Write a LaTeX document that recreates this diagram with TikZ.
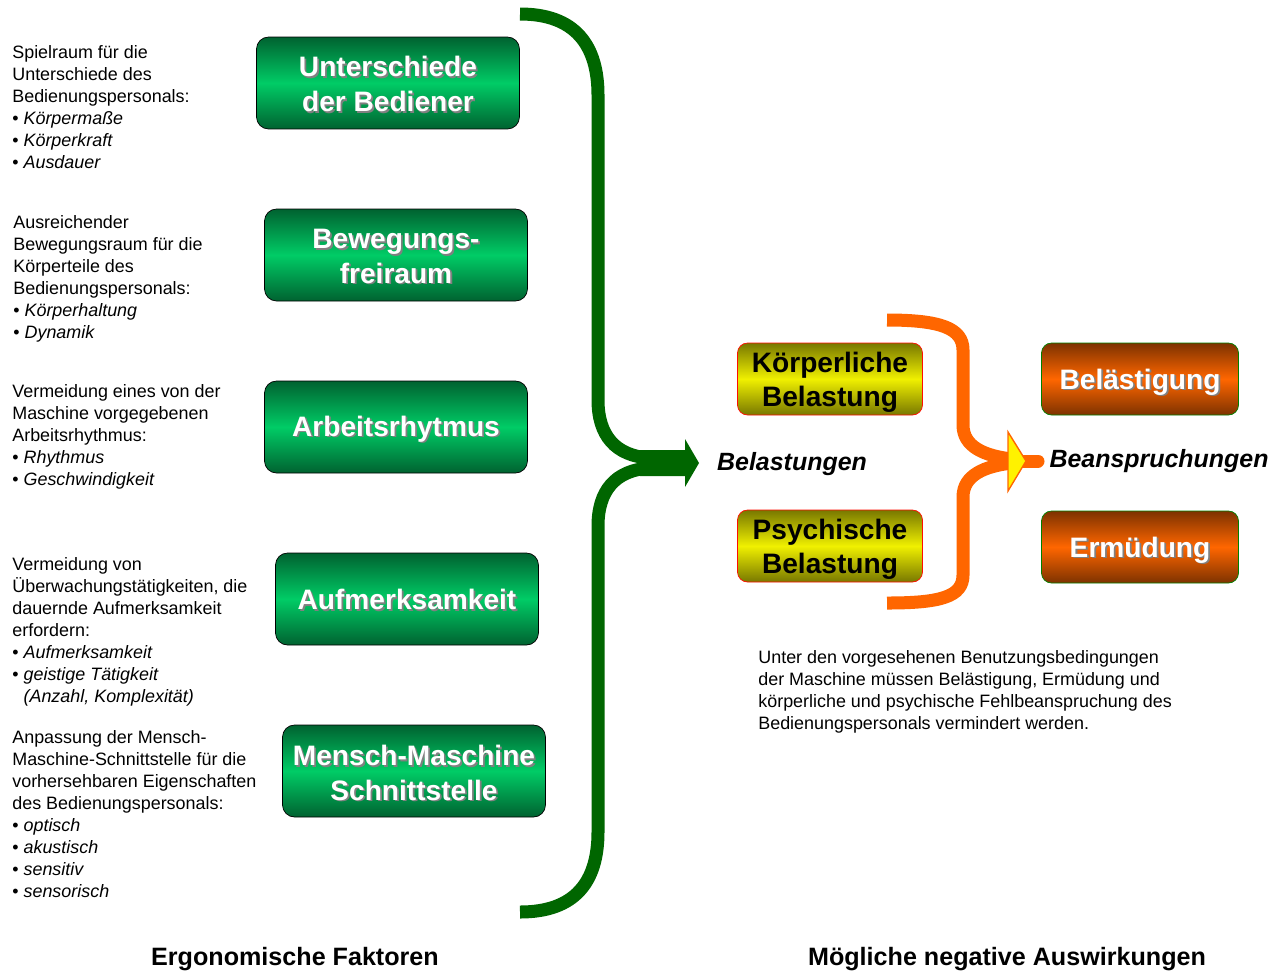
\documentclass[tikz,border=0pt]{standalone}
\usepackage{fontspec}
\setmainfont{Liberation Sans}
\usetikzlibrary{positioning}

\definecolor{gruenDunkel}{RGB}{0,98,48}
\definecolor{gruenHell}{RGB}{0,204,102}
\definecolor{klammerGruen}{RGB}{0,102,0}
\definecolor{klammerOrange}{RGB}{255,102,0}
\definecolor{olivDunkel}{RGB}{120,120,0}
\definecolor{gelbHell}{RGB}{240,240,0}
\definecolor{braunDunkel}{RGB}{125,50,0}
\definecolor{orangeHell}{RGB}{255,102,0}

% Zeile etwas tiefer setzen, ohne die Boxgroesse zu aendern
\newcommand{\tief}[2][1.2pt]{\raisebox{-#1}[\height][\depth]{#2}}
% weisse Schrift mit kleinem Schatten
\newcommand{\shd}[2][1.2pt]{\tief[#1]{\makebox[0pt][l]{\hspace{1pt}\raisebox{-1pt}{\textcolor{black!50}{#2}}}#2}}
\newcommand{\pkt}[1]{\textbullet\ \textit{#1}}

\begin{document}
\begin{tikzpicture}[x=0.02cm, y=-0.02cm,
    faktor/.style={draw=black, rounded corners=0.24cm, minimum width=5.26cm, minimum height=1.84cm,
        top color=gruenDunkel, bottom color=gruenDunkel, middle color=gruenHell,
        text=white, align=center, inner sep=0pt, font=\fontsize{16}{19.8}\selectfont\bfseries},
    belastung/.style={draw=red!90!orange, rounded corners=0.2cm, minimum width=3.7cm, minimum height=1.44cm,
        top color=olivDunkel, bottom color=olivDunkel, middle color=gelbHell,
        align=center, inner sep=0pt, font=\fontsize{16}{19.4}\selectfont\bfseries},
    folge/.style={draw=green!50!black, rounded corners=0.2cm, minimum width=3.94cm, minimum height=1.44cm,
        top color=braunDunkel, bottom color=braunDunkel, middle color=orangeHell,
        text=white, align=center, inner sep=0pt, font=\fontsize{16}{19.4}\selectfont\bfseries},
    erklaerung/.style={anchor=north west, align=left, inner sep=0pt, font=\fontsize{10.2}{12.5}\selectfont},
    stichwort/.style={font=\fontsize{14.2}{16}\selectfont\bfseries\itshape},
    titel/.style={font=\fontsize{14.3}{16}\selectfont\bfseries},
    klammer/.style={line width=7.4pt}]

    \useasboundingbox (0,0) rectangle (1283,971);

    % linke Spalte: Faktoren
    \node[faktor] (unterschiede) at (388,83) {\shd{Unterschiede}\\\shd{der Bediener}};
    \node[faktor] (bewegung) at (396,255) {\shd{Bewegungs-}\\\shd{freiraum}};
    \node[faktor] (rhythmus) at (396,427) {\shd[1.6pt]{Arbeitsrhytmus}};
    \node[faktor] (aufmerksam) at (407,599) {\shd[0.8pt]{Aufmerksamkeit}};
    \node[faktor] (schnittstelle) at (414,771) {\shd[1.5pt]{Mensch-Maschine}\\\shd[1.5pt]{Schnittstelle}};

    \node[erklaerung] (txtUnterschiede) at (12,45) {Spielraum für die\\Unterschiede des\\Bedienungspersonals:\\
        \pkt{Körpermaße}\\\pkt{Körperkraft}\\\pkt{Ausdauer}};
    \node[erklaerung] (txtBewegung) at (13,215) {Ausreichender\\Bewegungsraum für die\\Körperteile des\\Bedienungspersonals:\\
        \pkt{Körperhaltung}\\\pkt{Dynamik}};
    \node[erklaerung] (txtRhythmus) at (12,384) {Vermeidung eines von der\\Maschine vorgegebenen\\Arbeitsrhythmus:\\
        \pkt{Rhythmus}\\\pkt{Geschwindigkeit}};
    \node[erklaerung] (txtAufmerksam) at (12,557) {Vermeidung von\\Überwachungstätigkeiten, die\\dauernde Aufmerksamkeit\\erfordern:\\
        \pkt{Aufmerksamkeit}\\\pkt{geistige Tätigkeit}\\\phantom{\textbullet\ }\textit{(Anzahl, Komplexität)}};
    \node[erklaerung] (txtSchnittstelle) at (12,730) {Anpassung der Mensch-\\Maschine-Schnittstelle für die\\vorhersehbaren Eigenschaften\\des Bedienungspersonals:\\
        \pkt{optisch}\\\pkt{akustisch}\\\pkt{sensitiv}\\\pkt{sensorisch}};

    % grüne Klammer mit Pfeil
    \draw[klammer, klammerGruen] (520,14) .. controls (575,14) and (598,45) .. (598,95) -- (598,400)
        .. controls (598,435) and (615,456) .. (650,458);
    \draw[klammer, klammerGruen] (650,468) .. controls (615,470) and (598,491) .. (598,526) -- (598,832)
        .. controls (598,882) and (575,912) .. (520,912);
    \fill[klammerGruen] (640,450) -- (685,450) -- (685,439) -- (699,463) -- (685,487) -- (685,476) -- (640,476) -- cycle;

    % rechte Seite: Belastungen
    \node[stichwort] (belastungen) at (792,464) {Belastungen};
    \node[belastung] (koerperlich) at (830,379) {\tief[1.7pt]{Körperliche}\\\tief[1.7pt]{Belastung}};
    \node[belastung] (psychisch) at (830,546) {\tief[1.7pt]{Psychische}\\\tief[1.7pt]{Belastung}};

    % orange Klammer
    \draw[klammer, klammerOrange] (887,320) .. controls (940,320) and (963,328) .. (963,350) -- (963,425)
        .. controls (963,447) and (985,456) .. (1012,459);
    \draw[klammer, klammerOrange] (1012,463) .. controls (985,466) and (963,475) .. (963,497) -- (963,575)
        .. controls (963,597) and (940,603) .. (887,603);
    \draw[klammer, klammerOrange, line cap=round] (1008,461) -- (1038,461);
    \fill[yellow, draw=klammerOrange, line width=0.8pt] (1008,432) -- (1026,461) -- (1008,491) -- cycle;

    \node[stichwort] (beanspruchungen) at (1159,461) {Beanspruchungen};
    \node[folge] (belaestigung) at (1140,379) {\shd[2.2pt]{Belästigung}};
    \node[folge] (ermuedung) at (1140,547) {\shd[2.2pt]{Ermüdung}};

    \node[erklaerung] (hinweis) at (758,650) {Unter den vorgesehenen Benutzungsbedingungen\\der Maschine müssen Belästigung, Ermüdung und\\
        körperliche und psychische Fehlbeanspruchung des\\Bedienungspersonals vermindert werden.};

    % Überschriften unten
    \node[titel] (faktoren) at (295,959) {Ergonomische Faktoren};
    \node[titel] (auswirkungen) at (1007,959) {Mögliche negative Auswirkungen};
\end{tikzpicture}
\end{document}
